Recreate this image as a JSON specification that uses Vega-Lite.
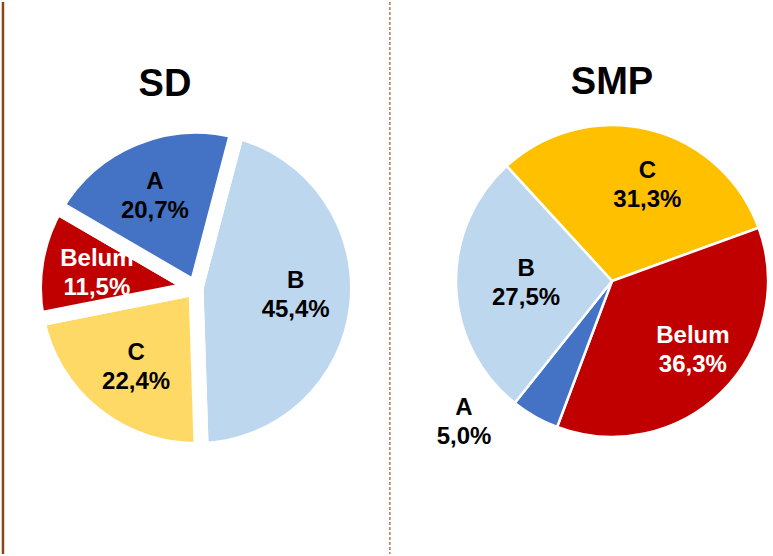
{
  "$schema": "https://vega.github.io/schema/vega-lite/v6.json",
  "width": 773,
  "height": 556,
  "autosize": {"type": "fit", "contains": "padding"},
  "padding": 0,
  "background": "white",
  "config": {
    "view": {"stroke": null},
    "locale": {"number": {"decimal": ",", "thousands": ".", "grouping": [3], "currency": ["", ""]}},
    "text": {"font": "Liberation Sans", "fontWeight": "bold"}
  },
  "data": {
    "values": [
      {"level": "SD", "category": "B", "share": 0.454},
      {"level": "SD", "category": "C", "share": 0.224},
      {"level": "SD", "category": "Belum", "share": 0.115},
      {"level": "SD", "category": "A", "share": 0.207},
      {"level": "SMP", "category": "C", "share": 0.313},
      {"level": "SMP", "category": "Belum", "share": 0.363},
      {"level": "SMP", "category": "A", "share": 0.05},
      {"level": "SMP", "category": "B", "share": 0.275}
    ]
  },
  "transform": [{"window": [{"op": "row_number", "as": "idx"}]}],
  "layer": [
    {
      "transform": [{"filter": "datum.level === 'SD' && datum.category === 'A'"}],
      "mark": {"type": "rule", "color": "#8B4513", "strokeWidth": 2.5},
      "encoding": {
        "x": {"field": "level", "type": "nominal", "bandPosition": 0.036, "scale": {"domain": ["SD", "SMP"], "range": [-12, 820], "paddingInner": 0, "paddingOuter": 0}, "axis": null}
      }
    },
    {
      "transform": [{"filter": "datum.level === 'SD' && datum.category === 'A'"}],
      "mark": {"type": "rule", "color": "#B07A50", "strokeWidth": 1.5, "strokeDash": [3, 2]},
      "encoding": {
        "x": {"field": "level", "type": "nominal", "bandPosition": 0.966, "scale": {"domain": ["SD", "SMP"], "range": [-12, 820], "paddingInner": 0, "paddingOuter": 0}, "axis": null}
      }
    },
    {
      "transform": [{"filter": "datum.level === 'SD'"}],
      "mark": {"type": "arc", "outerRadius": 161.5, "stroke": "white", "strokeWidth": 15, "strokeJoin": "round"},
      "encoding": {
        "x": {"field": "level", "type": "nominal", "scale": {"domain": ["SD", "SMP"], "range": [-12, 820], "paddingInner": 0, "paddingOuter": 0}, "axis": null},
        "y": {"field": "level", "type": "nominal", "scale": {"type": "point", "domain": ["SD", "SMP"], "range": [286, 279], "padding": 0}, "axis": null},
        "theta": {"field": "share", "type": "quantitative", "stack": true, "scale": {"range": [0.257, 6.540]}},
        "order": {"field": "idx", "type": "quantitative"},
        "color": {"field": "category", "type": "nominal", "legend": null, "scale": {"domain": ["A", "B", "C", "Belum"], "range": ["#4472C4", "#BDD7EE", "#FFD966", "#C00000"]}}
      }
    },
    {
      "transform": [{"filter": "datum.level === 'SD'"}],
      "mark": {"type": "text", "radius": 100, "dy": -15, "fontSize": 24},
      "encoding": {
        "x": {"field": "level", "type": "nominal", "scale": {"domain": ["SD", "SMP"], "range": [-12, 820], "paddingInner": 0, "paddingOuter": 0}, "axis": null},
        "y": {"field": "level", "type": "nominal", "scale": {"type": "point", "domain": ["SD", "SMP"], "range": [286, 279], "padding": 0}, "axis": null},
        "theta": {"field": "share", "type": "quantitative", "stack": true, "scale": {"range": [0.227, 6.510]}},
        "order": {"field": "idx", "type": "quantitative"},
        "text": {"field": "category"},
        "color": {"condition": {"test": "datum.category === 'Belum'", "value": "white"}, "value": "black"}
      }
    },
    {
      "transform": [{"filter": "datum.level === 'SD'"}],
      "mark": {"type": "text", "radius": 100, "dy": 14, "fontSize": 24},
      "encoding": {
        "x": {"field": "level", "type": "nominal", "scale": {"domain": ["SD", "SMP"], "range": [-12, 820], "paddingInner": 0, "paddingOuter": 0}, "axis": null},
        "y": {"field": "level", "type": "nominal", "scale": {"type": "point", "domain": ["SD", "SMP"], "range": [286, 279], "padding": 0}, "axis": null},
        "theta": {"field": "share", "type": "quantitative", "stack": true, "scale": {"range": [0.227, 6.510]}},
        "order": {"field": "idx", "type": "quantitative"},
        "text": {"field": "share", "format": ".1%"},
        "color": {"condition": {"test": "datum.category === 'Belum'", "value": "white"}, "value": "black"}
      }
    },
    {
      "transform": [{"filter": "datum.level === 'SD' && datum.category === 'A'"}],
      "mark": {"type": "text", "dy": -203, "dx": -31, "fontSize": 38, "color": "black"},
      "encoding": {
        "x": {"field": "level", "type": "nominal", "scale": {"domain": ["SD", "SMP"], "range": [-12, 820], "paddingInner": 0, "paddingOuter": 0}, "axis": null},
        "y": {"field": "level", "type": "nominal", "scale": {"type": "point", "domain": ["SD", "SMP"], "range": [286, 279], "padding": 0}, "axis": null},
        "text": {"field": "level"}
      }
    },
    {
      "transform": [{"filter": "datum.level === 'SMP' && datum.category === 'A'"}],
      "mark": {"type": "text", "dy": -198, "fontSize": 38, "color": "black"},
      "encoding": {
        "x": {"field": "level", "type": "nominal", "scale": {"domain": ["SD", "SMP"], "range": [-12, 820], "paddingInner": 0, "paddingOuter": 0}, "axis": null},
        "y": {"field": "level", "type": "nominal", "scale": {"type": "point", "domain": ["SD", "SMP"], "range": [286, 279], "padding": 0}, "axis": null},
        "text": {"field": "level"}
      }
    },
    {
      "transform": [{"filter": "datum.level === 'SMP'"}],
      "mark": {"type": "arc", "outerRadius": 156, "stroke": "white", "strokeWidth": 2.5, "strokeJoin": "round"},
      "encoding": {
        "x": {"field": "level", "type": "nominal", "scale": {"domain": ["SD", "SMP"], "range": [-12, 820], "paddingInner": 0, "paddingOuter": 0}, "axis": null},
        "y": {"field": "level", "type": "nominal", "scale": {"type": "point", "domain": ["SD", "SMP"], "range": [286, 279], "padding": 0}, "axis": null},
        "theta": {"field": "share", "type": "quantitative", "stack": true, "scale": {"range": [-0.742, 5.541]}},
        "order": {"field": "idx", "type": "quantitative"},
        "color": {"field": "category", "type": "nominal", "legend": null, "scale": {"domain": ["A", "B", "C", "Belum"], "range": ["#4472C4", "#BDD7EE", "#FFC000", "#C00000"]}}
      }
    },
    {
      "transform": [{"filter": "datum.level === 'SMP'"}],
      "mark": {"type": "text", "radius": 98, "dy": -15, "dx": 12, "fontSize": 24},
      "encoding": {
        "x": {"field": "level", "type": "nominal", "scale": {"domain": ["SD", "SMP"], "range": [-12, 820], "paddingInner": 0, "paddingOuter": 0}, "axis": null},
        "y": {"field": "level", "type": "nominal", "scale": {"type": "point", "domain": ["SD", "SMP"], "range": [286, 279], "padding": 0}, "axis": null},
        "theta": {"field": "share", "type": "quantitative", "stack": true, "scale": {"range": [-0.742, 5.541]}},
        "order": {"field": "idx", "type": "quantitative"},
        "text": {"condition": {"test": "datum.category !== 'A'", "field": "category"}, "value": ""},
        "color": {"condition": {"test": "datum.category === 'Belum'", "value": "white"}, "value": "black"}
      }
    },
    {
      "transform": [{"filter": "datum.level === 'SMP'"}],
      "mark": {"type": "text", "radius": 98, "dy": 14, "dx": 12, "fontSize": 24},
      "encoding": {
        "x": {"field": "level", "type": "nominal", "scale": {"domain": ["SD", "SMP"], "range": [-12, 820], "paddingInner": 0, "paddingOuter": 0}, "axis": null},
        "y": {"field": "level", "type": "nominal", "scale": {"type": "point", "domain": ["SD", "SMP"], "range": [286, 279], "padding": 0}, "axis": null},
        "theta": {"field": "share", "type": "quantitative", "stack": true, "scale": {"range": [-0.742, 5.541]}},
        "order": {"field": "idx", "type": "quantitative"},
        "text": {"condition": {"test": "datum.category !== 'A'", "field": "share", "format": ".1%"}, "value": ""},
        "color": {"condition": {"test": "datum.category === 'Belum'", "value": "white"}, "value": "black"}
      }
    },
    {
      "transform": [{"filter": "datum.level === 'SMP'"}],
      "mark": {"type": "text", "radius": 205, "dy": -15, "fontSize": 24, "color": "black"},
      "encoding": {
        "x": {"field": "level", "type": "nominal", "scale": {"domain": ["SD", "SMP"], "range": [-12, 820], "paddingInner": 0, "paddingOuter": 0}, "axis": null},
        "y": {"field": "level", "type": "nominal", "scale": {"type": "point", "domain": ["SD", "SMP"], "range": [286, 279], "padding": 0}, "axis": null},
        "theta": {"field": "share", "type": "quantitative", "stack": true, "scale": {"range": [-0.452, 5.831]}},
        "order": {"field": "idx", "type": "quantitative"},
        "text": {"condition": {"test": "datum.category === 'A'", "field": "category"}, "value": ""}
      }
    },
    {
      "transform": [{"filter": "datum.level === 'SMP'"}],
      "mark": {"type": "text", "radius": 205, "dy": 14, "fontSize": 24, "color": "black"},
      "encoding": {
        "x": {"field": "level", "type": "nominal", "scale": {"domain": ["SD", "SMP"], "range": [-12, 820], "paddingInner": 0, "paddingOuter": 0}, "axis": null},
        "y": {"field": "level", "type": "nominal", "scale": {"type": "point", "domain": ["SD", "SMP"], "range": [286, 279], "padding": 0}, "axis": null},
        "theta": {"field": "share", "type": "quantitative", "stack": true, "scale": {"range": [-0.452, 5.831]}},
        "order": {"field": "idx", "type": "quantitative"},
        "text": {"condition": {"test": "datum.category === 'A'", "field": "share", "format": ".1%"}, "value": ""}
      }
    }
  ],
  "resolve": {"scale": {"theta": "independent", "color": "independent"}}
}
